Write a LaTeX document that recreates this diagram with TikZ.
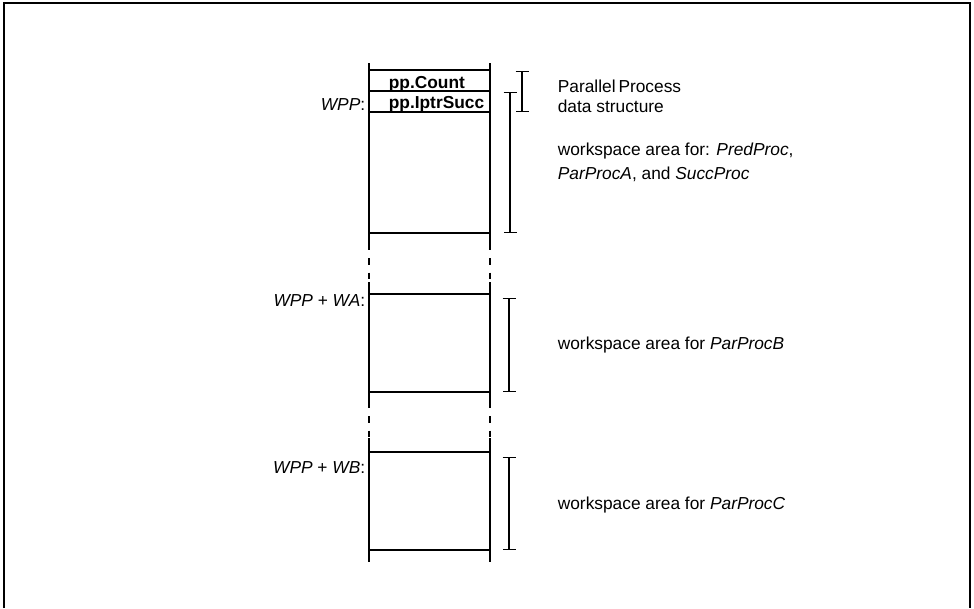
\documentclass[tikz,border=0pt]{standalone}
\usepackage{fontspec}
\setmainfont{Liberation Sans}
\usetikzlibrary{arrows.meta,positioning}

\begin{document}
\begin{tikzpicture}[x=0.75pt,y=-0.75pt,line width=1.25pt,
    every node/.style={inner sep=0pt,font=\fontsize{13}{15}\selectfont},
    span/.style={{Bar[width=9.75pt]}-{Bar[width=9.75pt]},line width=1pt},
    gap/.style={dash pattern=on 0pt off 6pt on 5pt off 6pt on 5pt off 6pt}]
  \useasboundingbox (0,0) rectangle (974,608);
  % frame, open at the bottom
  \draw[line width=1.5pt] (4,608) -- (4,3) -- (970,3) -- (970,608);

  % workspace blocks: name/top/bottom/line start/line end
  \foreach \n/\t/\b/\s/\e in {wpp/70/233/63/250,wa/294/392/282/408,wb/452/550/438/562}{
    \draw (369,\s) -- (369,\e) (490,\s) -- (490,\e);
    \draw (369,\t) coordinate (\n-t) -- (490,\t) (369,\b) coordinate (\n-b) -- (490,\b);
  }
  % broken column between the blocks
  \foreach \s/\e in {250/282,408/438}{
    \draw[gap] (369,\s) -- (369,\e) (490,\s) -- (490,\e);
  }
  % parallel process record
  \draw (369,91) -- (490,91) (369,112) -- (490,112);
  \node[anchor=base west,font=\fontsize{13}{15}\selectfont\bfseries] (cnt) at (388,88) {pp.Count};
  \node[anchor=base west,font=\fontsize{13}{15}\selectfont\bfseries] (iptr) at (388,108) {pp.IptrSucc};

  % addresses
  \node[anchor=base east] (lwpp) at (366,110) {\textit{WPP}:};
  \node[anchor=base east] (lwa) at (366,306) {\textit{WPP} + \textit{WA}:};
  \node[anchor=base east] (lwb) at (366,473) {\textit{WPP} + \textit{WB}:};

  % extents
  \foreach \n/\x/\t/\b in {ds/522/71/112,w1/510/92/233,w2/509/298/392,w3/509/457/550}{
    \coordinate (\n-t) at (\x,\t);
    \coordinate (\n-b) at (\x,\b);
    \draw[span] (\n-t) -- (\n-b);
  }

  % descriptions
  \node[anchor=base west] (tds1) at (557,92) {Parallel\,Process};
  \node[anchor=base west] (tds2) at (557,112) {data structure};
  \node[anchor=base west] (tws1) at (557,155) {workspace area for: \textit{PredProc},};
  \node[anchor=base west] (tws2) at (557,179) {\textit{ParProcA}, and \textit{SuccProc}};
  \node[anchor=base west] (twa) at (557,349) {workspace area for \textit{ParProcB}};
  \node[anchor=base west] (twb) at (557,509) {workspace area for \textit{ParProcC}};
\end{tikzpicture}
\end{document}
